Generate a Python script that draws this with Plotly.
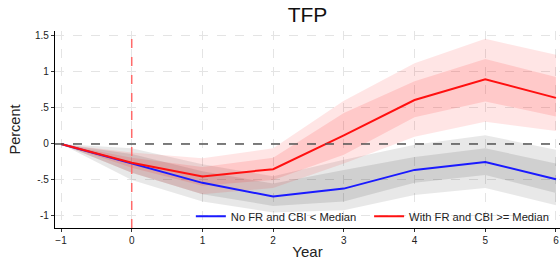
import plotly.graph_objects as go

years = [-1, 0, 1, 2, 3, 4, 5, 6]
x_ticks = [-1, 0, 1, 2, 3, 4, 5, 6]
y_ticks = [-1, -0.5, 0, 0.5, 1, 1.5]
y_tick_labels = ["-1", "-.5", "0", ".5", "1", "1.5"]

no_fr = [0, -0.27, -0.54, -0.73, -0.62, -0.36, -0.25, -0.49]
no_fr_in_lo = [0, -0.40, -0.70, -0.86, -0.80, -0.54, -0.43, -0.68]
no_fr_in_hi = [0, -0.14, -0.38, -0.55, -0.36, -0.18, -0.06, -0.27]
no_fr_out_lo = [0, -0.50, -0.80, -0.95, -0.92, -0.71, -0.61, -0.85]
no_fr_out_hi = [0, -0.06, -0.28, -0.45, -0.22, -0.01, 0.12, -0.08]

with_fr = [0, -0.26, -0.45, -0.35, 0.12, 0.61, 0.90, 0.64]
with_fr_in_lo = [0, -0.33, -0.58, -0.50, -0.15, 0.37, 0.59, 0.38]
with_fr_in_hi = [0, -0.19, -0.32, -0.19, 0.43, 0.87, 1.18, 0.93]
with_fr_out_lo = [0, -0.40, -0.70, -0.61, -0.27, 0.10, 0.31, 0.18]
with_fr_out_hi = [0, -0.12, -0.20, -0.06, 0.60, 1.12, 1.46, 1.24]

FONT = "Liberation Sans, Arial, sans-serif"

fig = go.Figure()


def band(lo, hi, color):
    fig.add_trace(go.Scatter(x=years + years[::-1], y=hi + lo[::-1], fill="toself",
                             fillcolor=color, line=dict(width=0), mode="lines",
                             showlegend=False, hoverinfo="skip"))


band(no_fr_out_lo, no_fr_out_hi, "rgba(0,0,0,0.09)")
band(no_fr_in_lo, no_fr_in_hi, "rgba(0,0,0,0.10)")
band(with_fr_out_lo, with_fr_out_hi, "rgba(255,0,0,0.10)")
band(with_fr_in_lo, with_fr_in_hi, "rgba(255,0,0,0.12)")

fig.add_trace(go.Scatter(x=years, y=no_fr, mode="lines", name="No FR and CBI < Median",
                         line=dict(color="#1a1aff", width=2), legend="legend"))
fig.add_trace(go.Scatter(x=years, y=with_fr, mode="lines", name="With FR and CBI >= Median",
                         line=dict(color="#ff1010", width=2), legend="legend2"))

fig.add_shape(type="line", xref="paper", x0=0, x1=1, yref="y", y0=0, y1=0,
              line=dict(color="#555555", width=1.5, dash="dash"))
fig.add_shape(type="line", xref="x", x0=0, x1=0, yref="paper", y0=0, y1=1,
              line=dict(color="#ff6a6a", width=1.5, dash="dash"))

legend_common = dict(orientation="h", xanchor="left", y=0.06, yanchor="middle",
                     bgcolor="rgba(0,0,0,0)", font=dict(size=11.2, color="#222222"),
                     itemwidth=30)

fig.update_layout(
    width=560, height=260,
    margin=dict(l=55, r=0, t=31, b=32),
    paper_bgcolor="white", plot_bgcolor="white",
    font=dict(family=FONT, color="#222222"),
    title=dict(text="TFP", x=0.5, xref="paper", xanchor="center", y=0.945, yanchor="middle",
               font=dict(size=21, color="#111111")),
    showlegend=True,
    legend=dict(x=0.269, **legend_common),
    legend2=dict(x=0.622, **legend_common),
    xaxis=dict(range=[-1.085, 6.057], tickmode="array", tickvals=x_ticks,
               showline=True, linecolor="black", linewidth=1.2,
               ticks="outside", ticklen=3, tickcolor="#333333",
               tickfont=dict(size=10), showgrid=True, gridcolor="#e4e4e4",
               griddash="dash", gridwidth=1, zeroline=False,
               ticklabeloverflow="allow",
               title=dict(text="Year", font=dict(size=15), standoff=4)),
    yaxis=dict(range=[-1.167, 1.569], tickmode="array", tickvals=y_ticks,
               ticktext=y_tick_labels,
               showline=True, linecolor="black", linewidth=1.2,
               ticks="outside", ticklen=3, tickcolor="#333333",
               tickfont=dict(size=10), showgrid=True, gridcolor="#e4e4e4",
               griddash="dash", gridwidth=1, zeroline=False,
               title=dict(text="Percent", font=dict(size=14.5), standoff=10)),
)

fig.write_html("out.html", config={"displayModeBar": False},
               post_script="document.body.style.margin='0';")
